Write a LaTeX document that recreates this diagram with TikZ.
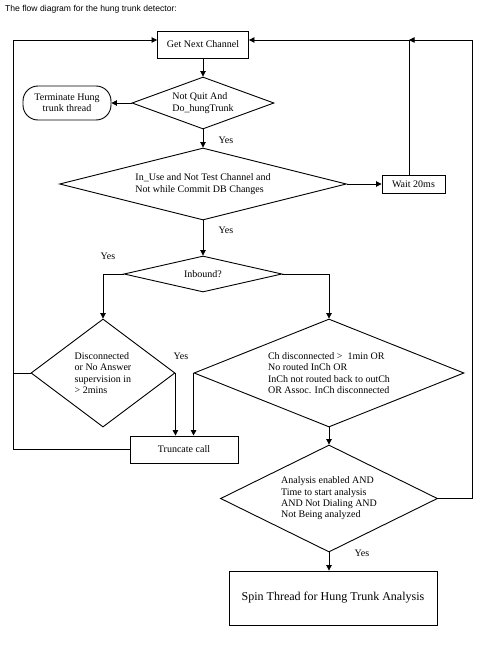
\documentclass[tikz,border=0pt]{standalone}
\usepackage{fontspec}
\setmainfont{Liberation Serif}
\newfontfamily\titlefont{Liberation Sans}
\usetikzlibrary{shapes.geometric,arrows.meta}
\tikzset{
  base/.style={draw, line width=0.9pt, font=\fontsize{10}{11.3}\selectfont, inner sep=0pt},
  box/.style={base, rectangle},
  dia/.style={base, diamond, align=left},
  term/.style={base, rectangle, rounded corners=15pt, align=center},
  conn/.style={line width=0.9pt},
  arr/.style={conn, -{Triangle[length=5.5pt,width=5.5pt]}},
  yes/.style={font=\fontsize{10}{11}\selectfont, inner sep=0pt}
}
\begin{document}
\begin{tikzpicture}[x=1pt,y=1pt]
\useasboundingbox (0,0) rectangle (500,-650);
\node[anchor=west, inner sep=0pt, font=\titlefont\fontsize{8.6}{10}\selectfont] (title) at (5,-9) {The flow diagram for the hung trunk detector:};

\node[box, minimum width=91pt, minimum height=27pt] (gnc) at (203,-44.5) {Get Next Channel};
\node[dia, aspect=2.73, minimum width=142pt, minimum height=52pt] (d1) at (203,-103) {Not Quit And\\Do\_hungTrunk};
\node[term, minimum width=88pt, minimum height=34pt] (term) at (67,-103) {Terminate Hung\\trunk thread};
\node[dia, aspect=3.99, minimum width=287pt, minimum height=72pt] (d2) at (203,-184) {In\_Use and Not Test Channel and\\Not while Commit DB Changes};
\node[box, minimum width=63pt, minimum height=18pt] (wait) at (413.5,-184) {Wait 20ms};
\node[dia, aspect=4.39, minimum width=158pt, minimum height=36pt] (d3) at (203,-274) {Inbound?};
\node[dia, aspect=1.33, minimum width=144pt, minimum height=108pt] (d4) at (103,-373) {Disconnected\\or No Answer\\supervision in\\> 2mins};
\node[dia, aspect=2.5, minimum width=270pt, minimum height=108pt] (d5) at (329,-373) {Ch disconnected >\ \ 1min OR\\No routed InCh OR\\InCh not routed back to outCh\\OR Assoc. InCh disconnected};
\node[box, minimum width=108pt, minimum height=27pt] (trunc) at (184,-449.5) {Truncate call};
\node[dia, aspect=2.03, minimum width=217pt, minimum height=107pt] (d6) at (329,-498.5) {Analysis enabled AND\\Time to start analysis\\AND Not Dialing AND\\Not Being analyzed};
\node[box, minimum width=208pt, minimum height=54pt, font=\fontsize{12}{14}\selectfont] (spin) at (333,-598) {Spin Thread for Hung Trunk Analysis};

\node[yes] (y1) at (226,-140) {Yes};
\node[yes] (y2) at (226,-230) {Yes};
\node[yes] (y3) at (108,-256) {Yes};
\node[yes] (y4) at (181,-356) {Yes};
\node[yes] (y5) at (362,-553) {Yes};

\coordinate (lt) at (13,-40);
\coordinate (rt) at (472,-40);
\coordinate (wj) at (409,-40);

\draw[arr] (gnc.south) -- (d1.north);
\draw[arr] (d1.west) -- (term.east);
\draw[arr] (d1.south) -- (d2.north);
\draw[arr] (d2.east) -- (wait.west);
\draw[arr] (wait.north -| wj) -- (wj) -- (gnc.east |- wj);
\draw[arr] (d2.south) -- (d3.north);
\draw[arr] (d3.west) -| (d4.north);
\draw[arr] (d3.east) -| (d5.north);
\draw[arr] (d4.east) -- (d4.east |- trunc.north);
\draw[arr] (d5.west) -- (d5.west |- trunc.north);
\draw[conn] (d4.west) -- (d4.west -| lt);
\draw[arr] (trunc.west) -| (lt) -- (gnc.west |- lt);
\draw[arr] (d5.south) -- (d6.north);
\draw[arr] (d6.east) -| (rt) -- (wj);
\draw[arr] (d6.south) -- (d6.south |- spin.north);
\end{tikzpicture}
\end{document}
